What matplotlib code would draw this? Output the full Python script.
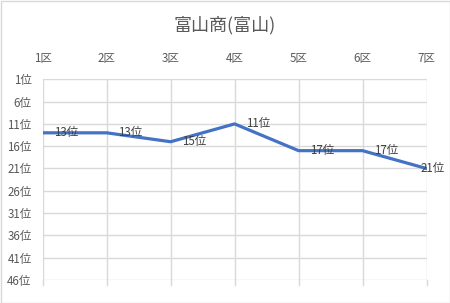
import matplotlib.pyplot as plt
from matplotlib.patches import Rectangle

plt.rcParams['font.family'] = ['Noto Sans CJK JP', 'DejaVu Sans']

# データ
sections = ['1区', '2区', '3区', '4区', '5区', '6区', '7区']
ranks = [13, 13, 15, 11, 17, 17, 21]
rank_ticks = [1, 6, 11, 16, 21, 26, 31, 36, 41, 46]
title = '富山商(富山)'

W, H = 450, 303
fig = plt.figure(figsize=(W / 100, H / 100), dpi=100)
ax = fig.add_axes([42.7 / W, 1 - 280 / H, (426.5 - 42.7) / W, (280 - 79.3) / H])

x = list(range(len(sections)))
ax.plot(x, ranks, color='#4472C4', linewidth=2.3, solid_joinstyle='round', zorder=3)

# データラベル
for i, r in enumerate(ranks):
    dx = -4 if i == len(ranks) - 1 else 8
    ax.annotate(f'{r}位', (i, r), xytext=(dx, 0), textcoords='offset points',
                ha='left', va='center', fontsize=8.3, color='#404040', zorder=4)

ax.set_xlim(0, len(sections) - 1)
ax.set_ylim(46, 1)
ax.set_yticks(rank_ticks)
ax.set_yticklabels([f'{t}位' for t in rank_ticks])
ax.set_xticks(x)
ax.set_xticklabels(sections)
ax.xaxis.tick_top()
ax.tick_params(axis='x', length=0, pad=10, labelsize=8.3, labelcolor='#595959')
ax.tick_params(axis='y', length=0, pad=8, labelsize=8.3, labelcolor='#595959')

ax.grid(True, color='#d9d9d9', linewidth=1)
ax.set_axisbelow(True)
for s in ax.spines.values():
    s.set_visible(False)

# 下側の目盛り線
for i in x:
    ax.plot([i, i], [46, 47.2], color='#d9d9d9', linewidth=1, clip_on=False)

fig.text(0.5, 1 - 25 / H, title, ha='center', va='center', fontsize=13, color='#595959')

# 枠線
fig.patches.append(Rectangle((0.5 / W, 0.5 / H), 1 - 1 / W, 1 - 1 / H, transform=fig.transFigure,
                             fill=False, edgecolor='#d9d9d9', linewidth=1))

fig.savefig('out.png', dpi=100, facecolor='white')
